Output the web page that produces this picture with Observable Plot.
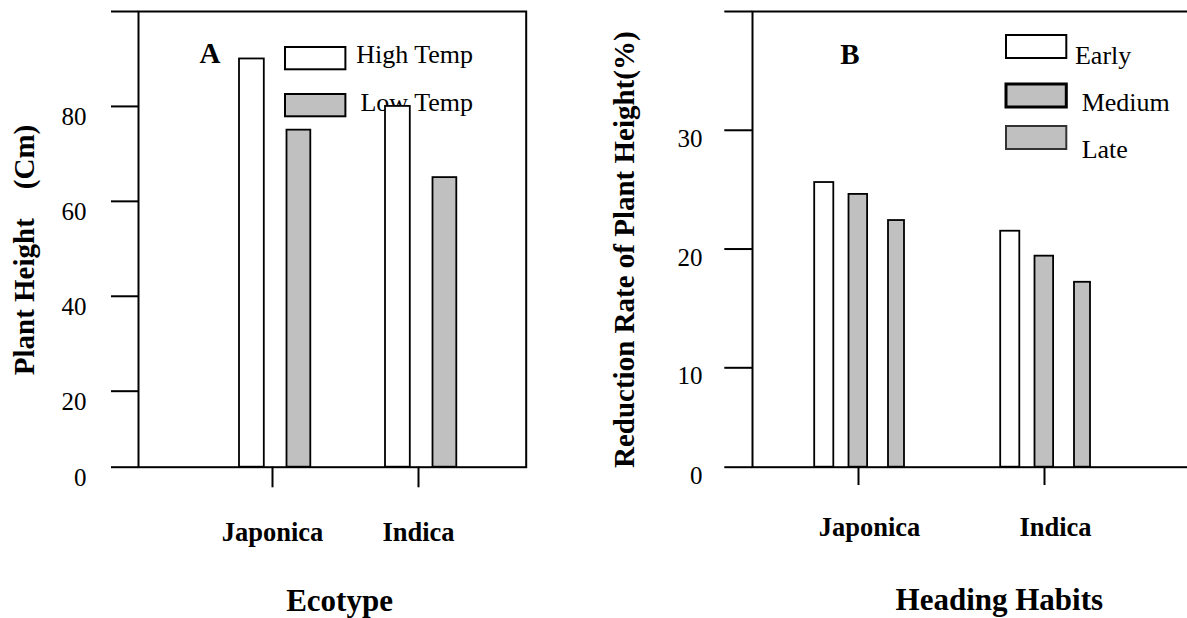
<!DOCTYPE html>
<html>
<head>
<meta charset="utf-8">
<script src="https://cdn.jsdelivr.net/npm/d3@7"></script>
<script src="https://cdn.jsdelivr.net/npm/@observablehq/plot@0.6"></script>
<style>
html, body { margin: 0; padding: 0; background: #fff; overflow: hidden; }
#wrap { position: relative; width: 1187px; height: 618px; overflow: hidden; background: #fff; }
.panel { position: absolute; top: 0; z-index: 2; }
#panelA { left: 0; width: 590px; }
#panelB { left: 590px; width: 620px; }
.lg { position: absolute; z-index: 1; }
#legA { left: 285.3px; top: 46.7px; }
#legB { left: 1005.7px; top: 35.3px; }
.lga-swatches, .lgb-swatches { font-family: "Liberation Serif", "Times New Roman", serif; font-size: 26px; color: #000; margin: 0; width: 220px; }
.lga-swatch, .lgb-swatch { padding-bottom: 0; }
.lga-swatch > svg, .lgb-swatch > svg { overflow: visible; }
.lga-swatch rect, .lgb-swatch rect { stroke: #000; stroke-width: 2px; }
.lga-swatch-label, .lgb-swatch-label { line-height: 26px; overflow: visible; position: relative; }
.lga-swatch { height: 22.3px; margin-bottom: 24.7px; }
.lga-swatch > svg { margin-right: 10.5px; }
.lga-swatch:nth-of-type(1) .lga-swatch-label { top: -3.3px; }
.lga-swatch:nth-of-type(2) .lga-swatch-label { top: -1.9px; margin-left: 4.3px; }
.lgb-swatch { height: 23px; }
.lgb-swatch:nth-of-type(1) { margin-bottom: 25.4px; }
.lgb-swatch:nth-of-type(2) { margin-bottom: 19.3px; }
.lgb-swatch > svg { margin-right: 9px; }
.lgb-swatch:nth-of-type(1) .lgb-swatch-label { top: 9px; }
.lgb-swatch:nth-of-type(2) .lgb-swatch-label { top: 7.7px; margin-left: 6.7px; }
.lgb-swatch:nth-of-type(3) .lgb-swatch-label { top: 13px; margin-left: 6.7px; }
.lgb-swatch:nth-of-type(2) rect { stroke-width: 3px; }
.lgb-swatch:nth-of-type(3) rect { stroke: #333; stroke-width: 2px; }
</style>
</head>
<body>
<div id="wrap">
  <div id="legA" class="lg"></div>
  <div id="legB" class="lg"></div>
  <div id="panelA" class="panel"></div>
  <div id="panelB" class="panel"></div>
</div>
<script>
// ---------- data ----------
const ecotypes = ["Japonica", "Indica"];
const tempSeries = ["High Temp", "Low Temp"];
const heightHigh = [90, 80];
const heightLow = [75, 65];

const habitSeries = ["Early", "Medium", "Late"];
const rateEarly = [25.6, 21.5];
const rateMedium = [24.6, 19.4];
const rateLate = [22.4, 17.2];

const ticksA = [0, 20, 40, 60, 80, 100];
const ticksB = [0, 10, 20, 30, 40];

const titleA = "Plant Height\u2003(Cm)";
const titleB = "Reduction Rate of Plant Height(%)";
const xTitleA = "Ecotype";
const xTitleB = "Heading Habits";

// ---------- styles ----------
const fillsA = ["white", "#c0c0c0"];
const fillsB = ["white", "#c0c0c0", "#c0c0c0"];
const insetsA = [[40.0, 81.2], [87.5, 34.7]];
const insetsB = [[49.2, 117.7], [83.5, 83.9], [123.0, 47.0]];
const font = "Liberation Serif, Times New Roman, serif";

// The original axes are compressed below their first tick (broken axis);
// reproduce that display with a scale transform.
const brokenA = v => v < 20 ? 20 - (20 - v) * 0.8007 : v;
const brokenB = v => v < 10 ? 10 - (10 - v) * 0.8369 : v;
// axis marks take ticks in the transformed space; label them with the original values
const tickPosA = ticksA.map(brokenA), labelA = new Map(ticksA.map(t => [brokenA(t), String(t)]));
const tickPosB = ticksB.map(brokenB), labelB = new Map(ticksB.map(t => [brokenB(t), String(t)]));

const rowsA = [];
[heightHigh, heightLow].forEach((vals, s) =>
  ecotypes.forEach((c, i) => rowsA.push({cat: c, series: tempSeries[s], value: vals[i]})));
const rowsB = [];
[rateEarly, rateMedium, rateLate].forEach((vals, s) =>
  ecotypes.forEach((c, i) => rowsB.push({cat: c, series: habitSeries[s], value: vals[i]})));

const id = d => d;

// ---------- Panel A ----------
const plotA = Plot.plot({
  width: 590, height: 618,
  marginLeft: 138, marginRight: 64.3, marginTop: 11, marginBottom: 151.3,
  style: {fontFamily: font, fontSize: "25px", color: "black", background: "transparent", overflow: "visible"},
  x: {type: "band", domain: ecotypes, paddingInner: 0, paddingOuter: 0.322, align: 0.639},
  y: {type: "linear", transform: brokenA, domain: [brokenA(0), brokenA(100)]},
  color: {type: "ordinal", domain: tempSeries, range: fillsA},
  marks: [
    ...tempSeries.map((s, k) => Plot.barY(rowsA.filter(d => d.series === s), {
      x: "cat", y1: 0, y2: "value", fill: "series", stroke: "black", strokeWidth: 1.8,
      insetLeft: insetsA[k][0], insetRight: insetsA[k][1]
    })),
    Plot.frame({strokeWidth: 2}),
    Plot.axisY({ticks: tickPosA, tickSize: 27, strokeWidth: 2, fill: "none", label: null}),
    Plot.axisY({ticks: tickPosA.filter(t => labelA.get(t) !== "100"), tickFormat: d => labelA.get(d), tickSize: 0, tickPadding: 52, fontSize: 25, dy: 10.5, label: null}),
    Plot.axisX({tickSize: 20.6, strokeWidth: 2, fill: "none", label: null}),
    Plot.axisX({tickSize: 0, tickPadding: 54.5, fontSize: 26.5, fontWeight: "bold", label: null}),
    Plot.text(["A"], {frameAnchor: "top-left", text: id, textAnchor: "start", lineAnchor: "top", dx: 61, dy: 31.1, fontSize: 29, fontWeight: "bold"}),
    Plot.text([titleA], {frameAnchor: "left", text: id, textAnchor: "middle", lineAnchor: "middle", rotate: -90, dx: -114, dy: 10.65, fontSize: 29, fontWeight: "bold"}),
    Plot.text([xTitleA], {frameAnchor: "bottom", text: id, textAnchor: "middle", lineAnchor: "top", dx: 7.15, dy: 121.3, fontSize: 31, fontWeight: "bold"})
  ]
});
document.getElementById("panelA").appendChild(plotA);

// ---------- Panel B ----------
const plotB = Plot.plot({
  width: 620, height: 618,
  marginLeft: 162, marginRight: 10, marginTop: 11, marginBottom: 151.3,
  style: {fontFamily: font, fontSize: "25px", color: "black", background: "transparent", overflow: "visible"},
  x: {type: "band", domain: ecotypes, paddingInner: 0, paddingOuter: 0.1998, align: 0.1736},
  y: {type: "linear", transform: brokenB, domain: [brokenB(0), brokenB(40)]},
  color: {type: "ordinal", domain: habitSeries, range: fillsB},
  marks: [
    ...habitSeries.map((s, k) => Plot.barY(rowsB.filter(d => d.series === s), {
      x: "cat", y1: 0, y2: "value", fill: "series", stroke: "black", strokeWidth: 1.8,
      insetLeft: insetsB[k][0], insetRight: insetsB[k][1]
    })),
    Plot.frame({strokeWidth: 2}),
    Plot.axisY({ticks: tickPosB, tickSize: 27.7, strokeWidth: 2, fill: "none", label: null}),
    Plot.axisY({ticks: tickPosB.filter(t => labelB.get(t) !== "40"), tickFormat: d => labelB.get(d), tickSize: 0, tickPadding: 50, fontSize: 25, dy: 8.5, label: null}),
    Plot.axisX({tickSize: 18.3, strokeWidth: 2, fill: "none", label: null}),
    Plot.axisX({tickSize: 0, tickPadding: 49.5, fontSize: 26.5, fontWeight: "bold", dx: 11, label: null}),
    Plot.text(["B"], {frameAnchor: "top-left", text: id, textAnchor: "start", lineAnchor: "top", dx: 87.7, dy: 31.7, fontSize: 29, fontWeight: "bold"}),
    Plot.text([titleB], {frameAnchor: "left", text: id, textAnchor: "middle", lineAnchor: "middle", rotate: -90, dx: -128, dy: 10.35, fontSize: 29, fontWeight: "bold"}),
    Plot.text([xTitleB], {frameAnchor: "bottom", text: id, textAnchor: "middle", lineAnchor: "top", dx: 22.8, dy: 120.3, fontSize: 31, fontWeight: "bold"})
  ]
});
document.getElementById("panelB").appendChild(plotB);

// ---------- Legends ----------
document.getElementById("legA").appendChild(Plot.legend({
  color: {type: "ordinal", domain: tempSeries, range: fillsA},
  columns: 1, swatchWidth: 60.4, swatchHeight: 22.3, className: "lga"
}));
document.getElementById("legB").appendChild(Plot.legend({
  color: {type: "ordinal", domain: habitSeries, range: fillsB},
  columns: 1, swatchWidth: 60.3, swatchHeight: 23, className: "lgb"
}));
</script>
</body>
</html>
